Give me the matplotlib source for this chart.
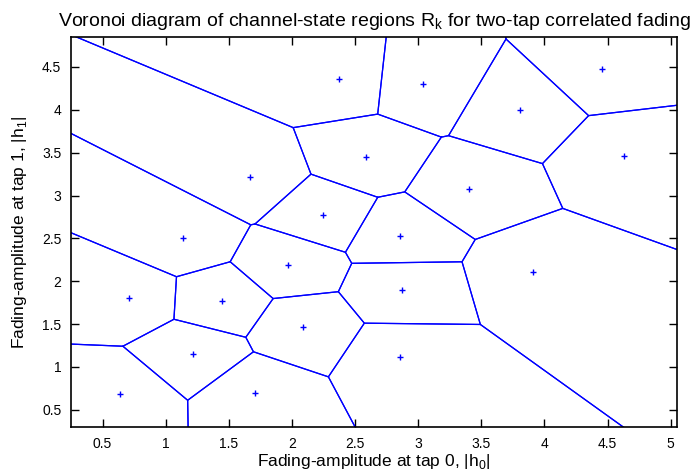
import numpy as np
import matplotlib
matplotlib.use("Agg")
import matplotlib.pyplot as plt
from matplotlib.ticker import MultipleLocator, FuncFormatter

plt.rcParams['font.family'] = ['Liberation Sans', 'DejaVu Sans']
plt.rcParams['mathtext.fontset'] = 'custom'
plt.rcParams['mathtext.rm'] = 'Liberation Sans'

# channel-state centroids (|h0|, |h1|)
h0 = [0.639, 1.707, 2.857, 1.213, 2.085, 1.442, 0.707, 2.870, 3.912, 1.972, 1.140,
      2.857, 2.243, 3.403, 1.671, 2.587, 4.628, 3.804, 3.041, 2.374, 4.453]
h1 = [0.683, 0.695, 1.111, 1.150, 1.462, 1.770, 1.800, 1.902, 2.109, 2.190, 2.505,
      2.533, 2.778, 3.082, 3.214, 3.452, 3.459, 3.997, 4.305, 4.355, 4.472]

pts = np.column_stack([h0, h1])


def clip(poly, a, b, c):
    # keep part of polygon where a*x + b*y <= c
    out = []
    n = len(poly)
    for k in range(n):
        p, q = poly[k], poly[(k + 1) % n]
        fp = a * p[0] + b * p[1] - c
        fq = a * q[0] + b * q[1] - c
        if fp <= 0:
            out.append(p)
        if fp * fq < 0:
            t = fp / (fp - fq)
            out.append(p + t * (q - p))
    return out


def voronoi_cells(pts, lo=-20.0, hi=25.0):
    cells = []
    for i, pi in enumerate(pts):
        poly = [np.array(v, float) for v in [(lo, lo), (hi, lo), (hi, hi), (lo, hi)]]
        for j, pj in enumerate(pts):
            if i == j:
                continue
            d = pj - pi
            m = (pi + pj) / 2
            poly = clip(poly, d[0], d[1], d @ m)
        cells.append(np.array(poly))
    return cells


fig = plt.figure(figsize=(6.99, 4.70), dpi=100)
ax = fig.add_axes([0.1016, 0.0915, 0.8670, 0.8298])

for cell in voronoi_cells(pts):
    closed = np.vstack([cell, cell[:1]])
    ax.plot(closed[:, 0], closed[:, 1], color='#0000ff', lw=0.9)

ax.plot(h0, h1, '+', color='#0000ff', ms=5, mew=1.0)

ax.set_xlim(0.25, 5.05)
ax.set_ylim(0.30, 4.85)
ax.xaxis.set_major_locator(MultipleLocator(0.5))
ax.yaxis.set_major_locator(MultipleLocator(0.5))
fmt = FuncFormatter(lambda v, p: '%g' % v)
ax.xaxis.set_major_formatter(fmt)
ax.yaxis.set_major_formatter(fmt)
ax.tick_params(direction='in', top=True, right=True, length=6, width=1, labelsize=10, pad=7)
for s in ax.spines.values():
    s.set_linewidth(1.2)

ax.set_xlabel('Fading-amplitude at tap 0, |h$_\\mathregular{0}$|', fontsize=12.5, labelpad=1)
ax.set_ylabel('Fading-amplitude at tap 1, |h$_\\mathregular{1}$|', fontsize=12.5, labelpad=9)
ax.set_title('Voronoi diagram of channel-state regions R$_\\mathregular{k}$ for two-tap correlated fading',
             fontsize=14, pad=8)

fig.savefig('out.png', dpi=100)
